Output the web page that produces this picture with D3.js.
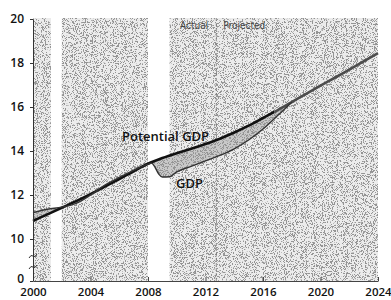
<!DOCTYPE html>
<html><head><meta charset="utf-8">
<script src="https://cdn.jsdelivr.net/npm/d3@7"></script>
<style>html,body{margin:0;padding:0;background:#fff;}svg{display:block;}</style>
</head><body>
<svg id="c" width="391" height="300"></svg>
<script>
// ---- data (trillions of dollars) ----
const potYears = [2000,2001,2002,2003,2004,2005,2006,2007,2008,2009,2010,2011,2012,2013,2014,2015,2016,2017,2018,2019,2020,2021,2022,2023,2024];
const potential = [10.82,11.12,11.42,11.72,12.04,12.38,12.72,13.08,13.42,13.68,13.9,14.1,14.32,14.56,14.84,15.15,15.5,15.85,16.22,16.6,16.97,17.33,17.7,18.07,18.45];
const gdpYears = [2000,2001,2002,2003,2004,2005,2006,2007,2008,2008.25,2008.5,2008.75,2009,2009.5,2010,2011,2012,2013,2014,2015,2016,2017,2018];
const gdp = [11.2,11.35,11.45,11.62,12.0,12.45,12.8,13.12,13.4,13.45,13.25,12.95,12.82,12.83,13.05,13.3,13.55,13.8,14.1,14.5,15.0,15.6,16.22];
const recessions = [[2001.25,2002.0],[2008.0,2009.5]];
const projectionStart = 2012.75;
const xTicks = [2000,2004,2008,2012,2016,2020,2024];
const yTicks = [0,10,12,14,16,18,20];

(function(){
const svg = d3.select('#c');
const x = d3.scaleLinear().domain([2000,2024]).range([33,378]);
const y = d3.scaleLinear().domain([0,10,20]).range([281,239,19]);
const pTop = 18, pBottom = 281;

const defs = svg.append('defs');
function stipple(id, seed, gray, freq, intercept){
  const f = defs.append('filter').attr('id',id).attr('x',0).attr('y',0).attr('width','100%').attr('height','100%');
  f.append('feTurbulence').attr('type','fractalNoise').attr('baseFrequency',freq).attr('numOctaves',2).attr('seed',seed).attr('result','n');
  f.append('feColorMatrix').attr('in','n').attr('type','matrix')
   .attr('values',`0 0 0 0 ${gray}  0 0 0 0 ${gray}  0 0 0 0 ${gray}  1 0 0 0 0`).attr('result','m');
  f.append('feComponentTransfer').attr('in','m').append('feFuncA').attr('type','linear').attr('slope',18).attr('intercept',intercept);
}
stipple('stip',4,0.3,1.1,-9.7);
stipple('stip2',9,0.3,1.1,-9.4);

const W = x(2024)-x(2000);
svg.append('rect').attr('x',x(2000)).attr('y',pTop).attr('width',W).attr('height',pBottom-pTop).attr('fill','#ececec');
svg.append('rect').attr('x',x(2000)).attr('y',pTop).attr('width',W).attr('height',pBottom-pTop).attr('fill','#000').attr('filter','url(#stip)');

svg.selectAll('rect.rec').data(recessions).join('rect').attr('class','rec')
 .attr('x',d=>x(d[0])).attr('y',pTop).attr('width',d=>x(d[1])-x(d[0])).attr('height',pBottom-pTop).attr('fill','#fff');

svg.append('line').attr('x1',x(projectionStart)).attr('x2',x(projectionStart)).attr('y1',pTop).attr('y2',pBottom)
 .attr('stroke','#777').attr('stroke-width',0.8).attr('stroke-dasharray','3,2');
svg.append('text').attr('x',x(projectionStart)-8).attr('y',29).attr('text-anchor','end')
 .attr('font-family','DejaVu Sans Condensed, DejaVu Sans').attr('font-size',10).attr('fill','#444').text('Actual');
svg.append('text').attr('x',x(projectionStart)+7).attr('y',29).attr('text-anchor','start')
 .attr('font-family','DejaVu Sans Condensed, DejaVu Sans').attr('font-size',10).attr('fill','#444').text('Projected');

const potAt = yr => {
  const i = Math.min(potYears.length-2, Math.max(0, d3.bisectRight(potYears, yr)-1));
  const t = (yr-potYears[i])/(potYears[i+1]-potYears[i]);
  return potential[i]+(potential[i+1]-potential[i])*t;
};
const gapData = gdpYears.map((yr,i)=>({yr, g:gdp[i], p:potAt(yr)}));
const area = d3.area().x(d=>x(d.yr)).y0(d=>y(d.p)).y1(d=>y(d.g)).curve(d3.curveMonotoneX);
defs.append('clipPath').attr('id','gapclip').append('path').attr('d',area(gapData));
svg.append('path').attr('d',area(gapData)).attr('fill','#c8c8c8');
svg.append('rect').attr('x',x(2000)).attr('y',pTop).attr('width',W).attr('height',pBottom-pTop)
 .attr('fill','#000').attr('filter','url(#stip2)').attr('clip-path','url(#gapclip)');

const line = d3.line().x(d=>x(d[0])).y(d=>y(d[1])).curve(d3.curveMonotoneX);
const potPts = potYears.map((yr,i)=>[yr,potential[i]]);
const gdpPts = gdpYears.map((yr,i)=>[yr,gdp[i]]);
defs.append('clipPath').attr('id','cA').append('rect').attr('x',0).attr('y',0).attr('width',x(2016.8)).attr('height',300);
defs.append('clipPath').attr('id','cB').append('rect').attr('x',x(2016.8)).attr('y',0).attr('width',391).attr('height',300);
svg.append('path').attr('d',line(potPts)).attr('fill','none').attr('stroke','#111').attr('stroke-width',2.6).attr('clip-path','url(#cA)');
svg.append('path').attr('d',line(potPts)).attr('fill','none').attr('stroke','#4d4d4d').attr('stroke-width',2.6).attr('clip-path','url(#cB)');
svg.append('path').attr('d',line(gdpPts)).attr('fill','none').attr('stroke','#333').attr('stroke-width',1.4);

svg.append('text').attr('x',122).attr('y',141).attr('font-family','Open Sans').attr('font-weight',600)
 .attr('font-size',13).attr('fill','#111').text('Potential GDP');
svg.append('text').attr('x',176).attr('y',188).attr('font-family','Open Sans').attr('font-weight',600)
 .attr('font-size',13).attr('fill','#111').text('GDP');

const xa = svg.append('g').attr('transform',`translate(0,${pBottom})`)
 .call(d3.axisBottom(x).tickValues(xTicks).tickFormat(d3.format('d')).tickSizeInner(-4).tickSizeOuter(0).tickPadding(7));
xa.select('.domain').attr('stroke','#444');
xa.selectAll('line').attr('stroke','#444');
xa.selectAll('text').attr('font-family','Open Sans').attr('font-weight',600).attr('font-size',11.5).attr('fill','#111');

const ya = svg.append('g').attr('transform',`translate(${x(2000)},0)`)
 .call(d3.axisLeft(y).tickValues(yTicks).tickSizeInner(3).tickSizeOuter(0).tickPadding(6));
ya.select('.domain').attr('stroke','#333');
ya.selectAll('line').attr('stroke','#333');
ya.selectAll('text').attr('font-family','Open Sans').attr('font-weight',600).attr('font-size',12).attr('fill','#111');
ya.selectAll('.tick').filter(d=>d===0).select('text').attr('y',-2);

[256,267].forEach(v=>{
  svg.append('path').attr('d',`M${x(2000)-4},${v+2} q2,-4 4,-2 t4,-2`).attr('fill','none').attr('stroke','#333').attr('stroke-width',1);
});
})();
</script>
</body></html>
